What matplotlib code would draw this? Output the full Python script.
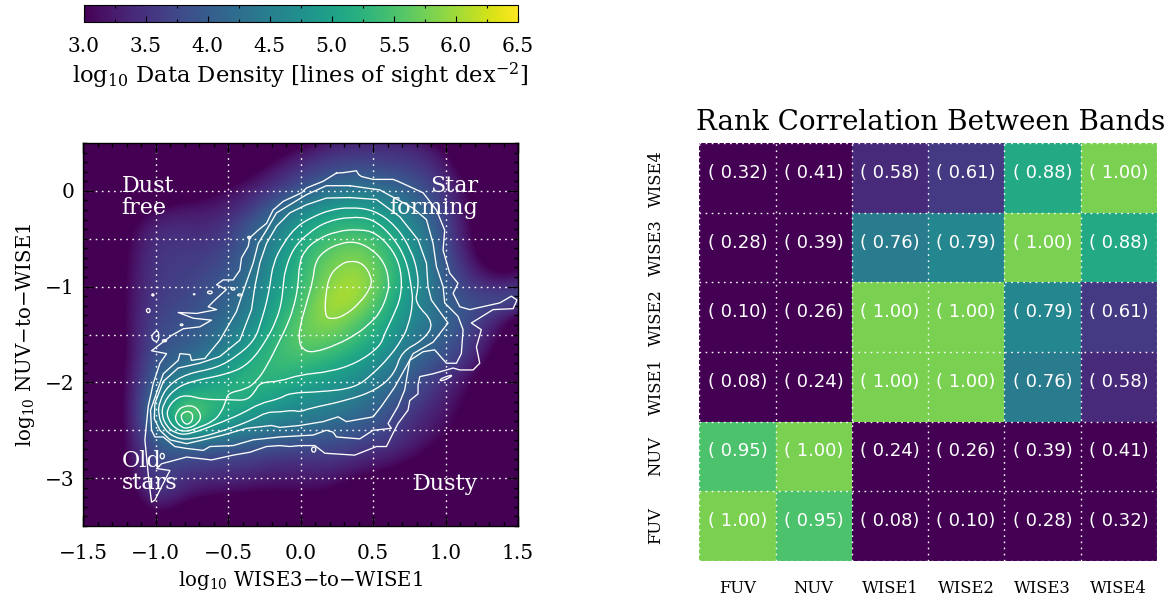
import numpy as np
import matplotlib
matplotlib.use('Agg')
import matplotlib.pyplot as plt
from matplotlib.cm import ScalarMappable
from matplotlib.colors import Normalize
from matplotlib.patches import PathPatch
from matplotlib.path import Path
from matplotlib.ticker import MultipleLocator

plt.rcParams['font.family'] = ['DejaVu Serif']
plt.rcParams['mathtext.fontset'] = 'dejavuserif'

W, H = 1174, 602

# density, log10 lines of sight per dex^2
dens_x = [-1.6, -1.4, -1.2, -1.0, -0.8, -0.6, -0.4, -0.2, 0.0, 0.2, 0.4, 0.6, 0.8, 1.0, 1.2, 1.4, 1.6]
dens_y = [0.64, 0.44, 0.24, 0.04, -0.16, -0.36, -0.56, -0.76, -0.96, -1.16, -1.36,
          -1.56, -1.76, -1.96, -2.16, -2.36, -2.56, -2.76, -2.96, -3.16, -3.36, -3.56]
density = [
    [2.2, 2.2, 2.2, 2.2, 2.2, 2.2, 2.2, 2.2, 2.2, 3.1, 3.2, 3.2, 3.1, 2.2, 2.2, 2.2, 2.2],
    [2.2, 2.2, 2.2, 2.2, 2.2, 2.2, 2.2, 2.7, 3.15, 3.4, 3.45, 3.45, 3.4, 3.1, 2.2, 2.2, 2.2],
    [2.2, 2.2, 2.2, 2.2, 2.2, 2.2, 2.7, 3.2, 3.5, 3.75, 3.85, 3.75, 3.65, 3.3, 2.6, 2.2, 2.2],
    [2.2, 2.2, 2.2, 2.2, 2.5, 2.9, 3.2, 3.45, 3.85, 4.2, 4.35, 4.15, 3.95, 3.5, 2.9, 2.2, 2.2],
    [2.2, 2.2, 2.5, 3.05, 3.2, 3.2, 3.4, 3.95, 4.5, 4.85, 5.0, 4.7, 4.2, 3.6, 2.9, 2.2, 2.2],
    [2.2, 2.2, 2.9, 3.4, 3.4, 3.35, 3.8, 4.35, 4.95, 5.25, 5.3, 5.1, 4.55, 3.75, 2.9, 2.2, 2.2],
    [2.2, 2.2, 3.0, 3.55, 3.55, 3.55, 3.9, 4.55, 5.15, 5.55, 5.7, 5.35, 4.7, 3.8, 3.0, 2.2, 2.2],
    [2.2, 2.2, 3.05, 3.6, 3.6, 3.7, 4.0, 4.7, 5.3, 5.75, 5.95, 5.45, 4.75, 3.9, 3.2, 2.5, 3.1],
    [2.2, 2.2, 3.1, 3.6, 3.65, 3.85, 4.15, 4.85, 5.3, 5.9, 6.15, 5.45, 4.8, 4.0, 3.45, 3.3, 3.5],
    [2.2, 2.2, 3.1, 3.65, 3.75, 3.95, 4.25, 4.95, 5.4, 6.15, 6.05, 5.25, 4.65, 4.0, 3.85, 3.9, 3.9],
    [2.2, 2.2, 3.1, 3.75, 3.85, 4.1, 4.45, 5.1, 5.65, 6.0, 5.55, 5.1, 4.55, 4.2, 3.7, 3.2, 2.2],
    [2.2, 2.2, 3.05, 3.85, 3.95, 4.2, 4.75, 5.25, 5.7, 5.65, 5.35, 4.9, 4.3, 4.0, 3.55, 2.9, 2.2],
    [2.2, 2.2, 3.05, 3.95, 4.15, 4.5, 5.0, 5.4, 5.45, 5.25, 5.0, 4.65, 4.1, 3.85, 3.4, 2.6, 2.2],
    [2.2, 2.2, 3.1, 4.1, 4.6, 4.95, 5.3, 5.3, 5.1, 4.95, 4.7, 4.35, 3.85, 3.45, 3.05, 2.2, 2.2],
    [2.2, 2.2, 3.1, 4.3, 5.4, 5.25, 5.2, 5.0, 4.8, 4.7, 4.45, 4.1, 3.7, 3.3, 2.9, 2.2, 2.2],
    [2.2, 2.2, 3.1, 4.4, 6.1, 5.15, 4.95, 4.65, 4.5, 4.35, 4.15, 3.85, 3.4, 3.2, 2.7, 2.2, 2.2],
    [2.2, 2.2, 3.1, 4.1, 4.65, 4.55, 4.3, 4.2, 4.05, 3.95, 3.85, 3.7, 3.3, 3.1, 2.5, 2.2, 2.2],
    [2.2, 2.2, 3.05, 3.9, 3.85, 3.75, 3.75, 3.6, 3.6, 3.65, 3.45, 3.3, 3.15, 2.6, 2.2, 2.2, 2.2],
    [2.2, 2.2, 2.95, 3.75, 3.5, 3.45, 3.4, 3.3, 3.25, 3.3, 3.1, 3.0, 2.6, 2.2, 2.2, 2.2, 2.2],
    [2.2, 2.2, 2.7, 3.7, 3.25, 3.1, 3.1, 3.0, 3.1, 3.05, 2.6, 2.2, 2.2, 2.2, 2.2, 2.2, 2.2],
    [2.2, 2.2, 2.4, 3.2, 2.7, 2.5, 2.2, 2.2, 2.2, 2.2, 2.2, 2.2, 2.2, 2.2, 2.2, 2.2, 2.2],
    [2.2, 2.2, 2.2, 2.6, 2.2, 2.2, 2.2, 2.2, 2.2, 2.2, 2.2, 2.2, 2.2, 2.2, 2.2, 2.2, 2.2],
]

# contours traced by eye, peak outwards
c1_x = [.339, .431, .488, .488, .408, .293, .201, .167, .173, .201, .270]
c1_y = [-.728, -.755, -.895, -1.0, -1.174, -1.313, -1.341, -1.296, -1.069, -.878, -.773]
c2_x = [.270, .385, .500, .580, .610, .603, .546, .477, .396, .247, .086, .017, -.013, -.006, .040, .086, .098, .155]
c2_y = [-.546, -.529, -.616, -.755, -.930, -1.069, -1.279, -1.383, -1.488, -1.610, -1.690, -1.662, -1.575, -1.418, -1.174, -.930, -.755, -.633]
c3_x = [.408, .523, .638, .695, .695, .638, .58, .546, .385, .201, -.006, -.144, -.282, -.316, -.374, -.489, -.672, -.787, -.868, -.925,
        -.914, -.868, -.799, -.718, -.604, -.546, -.516, -.50, -.374, -.305, -.236, -.144, -.098, -.052, -.017, -.01, .029, .109, .247]
c3_y = [-.40, -.44, -.62, -.83, -1.10, -1.31, -1.49, -1.63, -1.80, -1.89, -1.92, -1.99, -2.00, -2.10, -2.19, -2.18, -2.18, -2.13, -2.17, -2.29,
        -2.39, -2.48, -2.52, -2.48, -2.41, -2.31, -2.19, -2.11, -2.07, -1.99, -1.84, -1.56, -1.42, -1.24, -1.00, -.755, -.62, -.51, -.42]
c4_x = [.339, .50, .638, .73, .764, .776, .741, .695, .615, .50, .373, .132, -.075, -.144, -.282, -.397, -.535, -.776, -.868, -.925, -.96, -.948,
        -.879, -.764, -.489, -.351, -.236, -.167, -.132, -.121, -.109, -.052, .052, .178]
c4_y = [-.27, -.29, -.48, -.72, -1.00, -1.17, -1.42, -1.56, -1.73, -1.91, -2.06, -2.10, -2.11, -2.17, -2.22, -2.32, -2.41, -2.55, -2.53, -2.46, -2.34, -2.22,
        -2.08, -1.99, -1.91, -1.80, -1.56, -1.35, -1.17, -1.0, -.83, -.60, -.44, -.32]
c5_x = [.339, .511, .661, .764, .81, .81, .787, .925, .845, .695, .649, .523, .316, .063, -.006, -.052, -.144, -.236, -.328, -.558, -.764, -.868, -.948, -.983, -.976,
        -.914, -.787, -.58, -.443, -.316, -.27, -.236, -.213, -.19, -.121, -.029, .086, .201]
c5_y = [-.17, -.20, -.37, -.62, -.86, -1.03, -1.17, -1.38, -1.56, -1.68, -1.91, -2.08, -2.19, -2.27, -2.31, -2.29, -2.31, -2.31, -2.39, -2.52, -2.60, -2.58, -2.48, -2.34, -2.20,
        -2.03, -1.91, -1.85, -1.73, -1.56, -1.35, -1.17, -1.0, -.755, -.55, -.37, -.27, -.20]
c6_x = [.339, .523, .684, .81, .868, .879, .902, 1.017, .914, .776, .741, .649, .557, .50, .316, .259, .155, -.006, -.144, -.201, -.374, -.535, -.672, -.787, -.902, -.971, -1.01, -1.006,
        -.948, -.845, -.696, -.558, -.42, -.339, -.316, -.282, -.236, -.167, -.075, .04, .178]
c6_y = [-.07, -.09, -.27, -.51, -.755, -1.0, -1.14, -1.38, -1.58, -1.70, -1.80, -2.05, -2.25, -2.36, -2.41, -2.36, -2.41, -2.45, -2.47, -2.45, -2.48, -2.55, -2.60, -2.64, -2.60, -2.50, -2.38, -2.22,
        -1.99, -1.85, -1.80, -1.73, -1.56, -1.24, -1.0, -.755, -.55, -.37, -.23, -.145, -.075]
c7_x = [.339, .546, .776, .868, .914, .937, .983, .994, 1.086, 1.121, 1.109, 1.075, 1.006, .925, .845, .753, .718, .672, .603, .626, .50, .408, .247, .224, .178, .086, -.144, -.328, -.466, -.626, -.672, -.787, -.868, -.948, -1.006, -1.029, -1.036, -.999,
        -.948, -.845, -.833, -.764, -.753, -.661, -.558, -.443, -.385, -.328, -.293, -.236, -.167, -.075, .04, .178]
c7_y = [.054, .01, -.18, -.30, -.55, -.79, -1.0, -1.17, -1.31, -1.45, -1.70, -1.80, -1.80, -1.66, -1.68, -1.77, -2.08, -2.25, -2.43, -2.48, -2.50, -2.59, -2.57, -2.52, -2.50, -2.55, -2.57, -2.60, -2.66, -2.67, -2.71, -2.69, -2.67, -2.57, -2.57, -2.50, -2.29, -2.13,
        -1.91, -1.77, -1.70, -1.71, -1.77, -1.75, -1.56, -1.26, -1.0, -.755, -.55, -.41, -.23, -.145, -.04, .054]
c8_x = [.247, .293, .385, .401, .42, .50, .638, .672, .845, .937, .994, .983, 1.029, 1.086, 1.052, 1.098, 1.167, 1.374, 1.454, 1.493, 1.466, 1.328, 1.178, 1.247, 1.213, 1.236, 1.19, 1.098, 1.052, .914, .822, .81, .81, .753, .741, .672, .638, .592, .523, .373, .167, .098,
        -.006, -.075, -.144, -.236, -.351, -.466, -.615, -.787, -.96, -.994, -.902, -.96, -1.006, -1.029, -1.045, -1.059, -1.075, -1.052, -1.017, -.971, -.925, -1.029, -.891, -.81, -.696, -.615, -.741, -.845, -.718, -.58, -.638, -.592, -.512, -.58, -.535, -.466, -.42, -.408, -.362, -.351, -.293, -.236, -.19, -.121, .006, .04, .155]
c8_y = [.186, .19, .21, .17, .15, .12, .12, .10, -.02, -.20, -.41, -.62, -.86, -.965, -1.07, -1.21, -1.24, -1.17, -1.10, -1.14, -1.23, -1.24, -1.38, -1.45, -1.63, -1.80, -1.87, -1.87, -1.85, -1.91, -1.94, -2.03, -2.12, -2.19, -2.29, -2.43, -2.53, -2.67, -2.67, -2.76, -2.74, -2.66,
        -2.66, -2.67, -2.66, -2.67, -2.73, -2.76, -2.81, -2.78, -2.85, -2.90, -2.92, -3.09, -3.23, -3.25, -3.06, -2.85, -2.60, -2.25, -2.01, -1.80, -1.70, -1.67, -1.51, -1.44, -1.42, -1.35, -1.33, -1.27, -1.28, -1.24, -1.21, -1.14, -1.03, -.98, -.93, -.93, -.83, -.70, -.58, -.49, -.41, -.34, -.20, -.11, -.02, .03, .10]
c9_x = [-.856, -.81, -.73, -.684, -.707, -.776, -.822, -.868]
c9_y = [-2.307, -2.245, -2.245, -2.342, -2.43, -2.482, -2.471, -2.394]
c10_x = [-.83, -.81, -.76, -.74, -.76, -.80]
c10_y = [-2.36, -2.31, -2.30, -2.36, -2.43, -2.44]
smooth_lines = [(c1_x, c1_y), (c2_x, c2_y), (c3_x, c3_y), (c4_x, c4_y), (c5_x, c5_y), (c9_x, c9_y), (c10_x, c10_y)]
rough_lines = [(c6_x, c6_y), (c7_x, c7_y), (c8_x, c8_y)]

# little closed islands outside the last contour
islands = [
    ([-1.03, -1.02, -1.01, -1.02], [-1.09, -1.07, -1.09, -1.10]),
    ([-1.07, -1.05, -1.035, -1.05], [-1.25, -1.22, -1.25, -1.28]),
    ([-1.036, -.983, -.976, -1.006], [-1.52, -1.44, -1.56, -1.58]),
    ([-.96, -.94, -.92, -.94], [-1.565, -1.55, -1.565, -1.58]),
    ([-.835, -.82, -.81, -.82], [-1.40, -1.385, -1.40, -1.41]),
    ([-.65, -.625, -.605, -.625], [-1.06, -1.04, -1.06, -1.08]),
    ([-.485, -.465, -.45, -.465], [-1.025, -1.005, -1.025, -1.04]),
    ([-.44, -.42, -.40, -.42], [-1.09, -1.07, -1.09, -1.10]),
    ([-.742, -.735, -.728, -.735], [-1.08, -1.072, -1.08, -1.088]),
    ([-.975, -.955, -.935, -.955], [-2.77, -2.73, -2.77, -2.81]),
    ([.07, .09, .11, .09], [-2.70, -2.665, -2.70, -2.74]),
    ([.955, 1.03, 1.05, .975], [-1.97, -1.925, -1.93, -1.99]),
    ([-.37, -.355, -.34, -.355], [-.487, -.47, -.487, -.50]),
]

bands = ['FUV', 'NUV', 'WISE1', 'WISE2', 'WISE3', 'WISE4']
corr = [
    [1.00, 0.95, 0.08, 0.10, 0.28, 0.32],
    [0.95, 1.00, 0.24, 0.26, 0.39, 0.41],
    [0.08, 0.24, 1.00, 1.00, 0.76, 0.58],
    [0.10, 0.26, 1.00, 1.00, 0.79, 0.61],
    [0.28, 0.39, 0.76, 0.79, 1.00, 0.88],
    [0.32, 0.41, 0.58, 0.61, 0.88, 1.00],
]


def box(left, top, right, bottom):
    return [left / W, 1 - bottom / H, (right - left) / W, (bottom - top) / H]


def smooth_contour(ax, xs, ys):
    # closed quadratic path through the traced points
    pts = np.column_stack([xs, ys])
    mids = (pts + np.roll(pts, -1, axis=0)) / 2
    verts = [mids[-1]]
    codes = [Path.MOVETO]
    for p, m in zip(pts, mids):
        verts += [p, m]
        codes += [Path.CURVE3, Path.CURVE3]
    ax.add_patch(PathPatch(Path(verts, codes), fc='none', ec='white', lw=0.95, zorder=2))


dots = (0, (1.2, 3.2))
fig = plt.figure(figsize=(W / 100, H / 100), dpi=100)

# colorbar
cax = fig.add_axes(box(83.5, 4.5, 518, 21.5))
cb = fig.colorbar(ScalarMappable(Normalize(3.0, 6.5), 'viridis'), cax=cax, orientation='horizontal')
cb.set_ticks(np.arange(3.0, 6.6, 0.5))
cb.ax.xaxis.set_minor_locator(MultipleLocator(0.25))
cb.ax.tick_params(which='major', direction='in', length=4, width=0.8, top=False, bottom=True, labelsize=14.5, pad=11)
cb.ax.tick_params(which='minor', direction='in', length=2, width=0.8, top=True, bottom=True)
cb.set_ticklabels(['3.0', '3.5', '4.0', '4.5', '5.0', '5.5', '6.0', '6.5'])
fig.text(300 / W, 1 - 76 / H, r'log$_{10}$ Data Density [lines of sight dex$^{-2}$]', ha='center', va='center', fontsize=16.3)

# density panel
ax = fig.add_axes(box(83.3, 143, 518, 526))
ax.imshow(density, cmap='viridis', vmin=3.0, vmax=6.5, aspect='auto', interpolation='bicubic', interpolation_stage='data',
          extent=[dens_x[0] - 0.1, dens_x[-1] + 0.1, dens_y[-1] - 0.1, dens_y[0] + 0.1], zorder=0)
for cx, cy in smooth_lines + islands:
    smooth_contour(ax, cx, cy)
for cx, cy in rough_lines:
    ax.plot(cx + cx[:1], cy + cy[:1], color='white', lw=0.95, zorder=2)
ax.set_xlim(-1.5, 1.5)
ax.set_ylim(-3.5, 0.5)
ax.set_xticks([-1.5, -1.0, -0.5, 0.0, 0.5, 1.0, 1.5])
ax.set_xticklabels(['\u22121.5', '\u22121.0', '\u22120.5', '0.0', '0.5', '1.0', '1.5'])
ax.set_yticks([-3, -2, -1, 0])
ax.set_yticklabels(['\u22123', '\u22122', '\u22121', '0'])
ax.xaxis.set_minor_locator(MultipleLocator(0.1))
ax.yaxis.set_minor_locator(MultipleLocator(0.1))
ax.tick_params(which='major', direction='in', length=7, width=1, top=True, right=True, labelsize=14.5)
ax.tick_params(which='minor', direction='in', length=3, width=1, top=True, right=True)
ax.tick_params(axis='x', which='major', pad=13)
ax.tick_params(axis='y', which='major', pad=6)
for v in np.arange(-1.0, 1.5, 0.5):
    ax.axvline(v, color='white', lw=1, ls=dots, zorder=1.5)
for v in np.arange(-3.0, 0.5, 0.5):
    ax.axhline(v, color='white', lw=1, ls=dots, zorder=1.5)
ax.set_xlabel('log$_{10}$ WISE3\u2212to\u2212WISE1', fontsize=14.2, labelpad=4)
ax.set_ylabel('log$_{10}$ NUV\u2212to\u2212WISE1', fontsize=14.2, labelpad=6)
for s in ax.spines.values():
    s.set_linewidth(1)

label_kw = dict(color='white', fontsize=16, va='center', zorder=3, linespacing=1.0)
ax.text(-1.236, -0.06, 'Dust\nfree', ha='left', **label_kw)
ax.text(1.224, -0.06, 'Star\nforming', ha='right', **label_kw)
ax.text(-1.236, -2.94, 'Old\nstars', ha='left', **label_kw)
ax.text(1.224, -3.06, 'Dusty', ha='right', **label_kw)

# rank correlation panel
ax2 = fig.add_axes(box(699.3, 143.3, 1156.8, 560.7))
ax2.pcolormesh(np.arange(7), np.arange(7), corr, cmap='viridis', vmin=0.506, vmax=1.124)
for i in range(6):
    for j in range(6):
        ax2.text(j + 0.5, i + 0.57, f'( {corr[i][j]:.2f})', color='white', ha='center', va='center',
                 fontsize=13, family='DejaVu Sans')
for v in range(0, 7):
    ax2.axvline(v, color='white', lw=1, ls=dots, zorder=3, clip_on=False)
    ax2.axhline(v, color='white', lw=1, ls=dots, zorder=3, clip_on=False)
ax2.set_xlim(0, 6)
ax2.set_ylim(0, 6)
ax2.set_xticks(np.arange(6) + 0.5)
ax2.set_yticks(np.arange(6) + 0.5)
ax2.set_xticklabels(bands, fontsize=11.8)
ax2.set_yticklabels(bands, fontsize=11.8, rotation=90, va='center')
ax2.tick_params(length=0)
ax2.tick_params(axis='x', pad=14)
ax2.tick_params(axis='y', pad=25)
for s in ax2.spines.values():
    s.set_visible(False)
fig.text(931 / W, 1 - 123 / H, 'Rank Correlation Between Bands', ha='center', va='center', fontsize=20)

fig.savefig('out.png', dpi=100)
